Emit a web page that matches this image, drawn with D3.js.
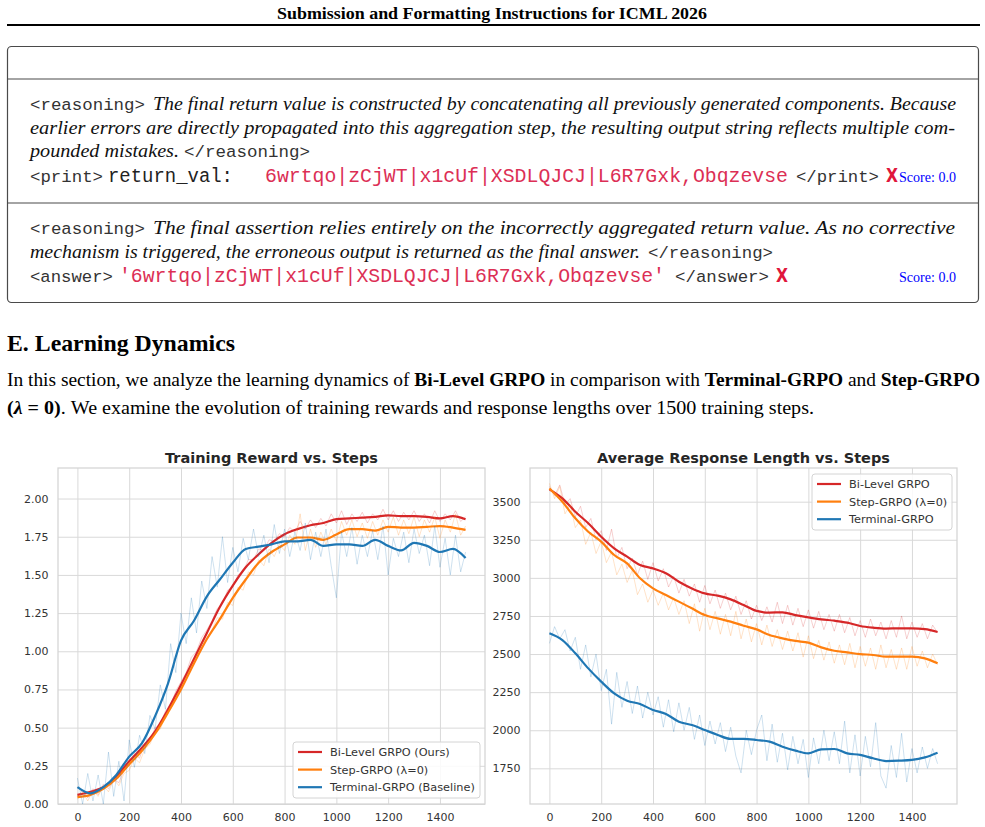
<!DOCTYPE html>
<html>
<head>
<meta charset="utf-8">
<script src="https://cdn.jsdelivr.net/npm/d3@7"></script>
<style>
  body { margin: 0; background: #fff; }
  .serif { font-family: "Liberation Serif", "Times New Roman", serif; }
  .mono { font-family: "Liberation Mono", "Courier New", monospace; }
  .sans { font-family: "DejaVu Sans", sans-serif; }
</style>
</head>
<body>
<div id="page"></div>
<script>
// ---- chart data ----
const smoothSteps = [0, 50, 100, 150, 200, 250, 300, 350, 400, 450, 500, 550, 600, 650, 700, 750,
  800, 850, 900, 950, 1000, 1050, 1100, 1150, 1200, 1250, 1300, 1350, 1400, 1450, 1499];
const rawSteps = [0, 20, 40, 60, 80, 100, 120, 140, 160, 180, 200, 220, 240, 260, 280, 300, 320, 340, 360, 380,
  400, 420, 440, 460, 480, 500, 520, 540, 560, 580, 600, 620, 640, 660, 680, 700, 720, 740, 760, 780,
  800, 820, 840, 860, 880, 900, 920, 940, 960, 980, 1000, 1020, 1040, 1060, 1080, 1100, 1120, 1140, 1160, 1180,
  1200, 1220, 1240, 1260, 1280, 1300, 1320, 1340, 1360, 1380, 1400, 1420, 1440, 1460, 1480, 1499];

const rewardBiLevel = [0.06, 0.08, 0.11, 0.18, 0.28, 0.37, 0.476, 0.62, 0.78, 0.95, 1.12, 1.29, 1.43, 1.55, 1.635, 1.71,
  1.766, 1.80, 1.825, 1.84, 1.865, 1.87, 1.875, 1.88, 1.89, 1.885, 1.885, 1.88, 1.87, 1.885, 1.865];
const rewardStep = [0.045, 0.06, 0.10, 0.165, 0.26, 0.35, 0.46, 0.60, 0.75, 0.92, 1.08, 1.21, 1.35, 1.47, 1.58, 1.65,
  1.70, 1.745, 1.745, 1.73, 1.765, 1.80, 1.80, 1.79, 1.815, 1.81, 1.81, 1.815, 1.82, 1.81, 1.795];
const rewardTerminal = [0.11, 0.07, 0.11, 0.19, 0.31, 0.40, 0.575, 0.79, 1.07, 1.20, 1.36, 1.47, 1.58, 1.67, 1.685, 1.70,
  1.72, 1.72, 1.73, 1.69, 1.70, 1.70, 1.69, 1.73, 1.69, 1.66, 1.71, 1.69, 1.65, 1.67, 1.61];

const rewardBiLevelRaw = [
  0.05, 0.09, 0.04, 0.10, 0.06, 0.13, 0.10, 0.16, 0.14, 0.22,
  0.25, 0.33, 0.30, 0.40, 0.41, 0.50, 0.52, 0.61, 0.65, 0.74,
  0.80, 0.86, 0.96, 1.00, 1.09, 1.14, 1.20, 1.28, 1.31, 1.40,
  1.42, 1.50, 1.52, 1.60, 1.60, 1.67, 1.66, 1.73, 1.72, 1.77,
  1.75, 1.81, 1.78, 1.85, 1.80, 1.86, 1.81, 1.87, 1.82, 1.90,
  1.84, 1.92, 1.83, 1.90, 1.85, 1.91, 1.84, 1.90, 1.86, 1.93,
  1.86, 1.92, 1.85, 1.91, 1.86, 1.92, 1.85, 1.90, 1.84, 1.92,
  1.85, 1.90, 1.86, 1.92, 1.85, 1.88];
const rewardStepRaw = [
  0.03, 0.08, 0.02, 0.09, 0.05, 0.12, 0.08, 0.16, 0.12, 0.20,
  0.22, 0.30, 0.27, 0.36, 0.39, 0.47, 0.49, 0.58, 0.62, 0.70,
  0.76, 0.82, 0.92, 0.96, 1.05, 1.09, 1.14, 1.22, 1.21, 1.32,
  1.30, 1.42, 1.40, 1.52, 1.50, 1.60, 1.56, 1.67, 1.62, 1.70,
  1.66, 1.76, 1.70, 1.90, 1.66, 1.80, 1.68, 1.78, 1.70, 1.80,
  1.72, 1.85, 1.76, 1.86, 1.75, 1.84, 1.74, 1.85, 1.76, 1.86,
  1.78, 1.88, 1.76, 1.86, 1.77, 1.88, 1.75, 1.86, 1.78, 1.88,
  1.74, 1.86, 1.78, 1.90, 1.76, 1.82];
const rewardTerminalRaw = [
  0.17, 0.00, 0.20, 0.02, 0.19, 0.00, 0.34, 0.05, 0.28, 0.02,
  0.42, 0.24, 0.45, 0.33, 0.58, 0.49, 0.78, 0.62, 1.05, 0.86,
  1.25, 1.05, 1.35, 1.12, 1.46, 1.28, 1.62, 1.42, 1.75, 1.45,
  1.68, 1.52, 1.74, 1.60, 1.80, 1.62, 1.76, 1.58, 1.83, 1.64,
  1.80, 1.62, 1.78, 1.66, 1.84, 1.60, 1.78, 1.62, 1.80, 1.56,
  1.35, 1.78, 1.62, 1.81, 1.57, 1.76, 1.62, 1.79, 1.60, 1.82,
  1.50, 1.74, 1.62, 1.78, 1.58, 1.80, 1.64, 1.76, 1.56, 1.82,
  1.55, 1.74, 1.50, 1.76, 1.52, 1.65];

const lengthBiLevel = [3581, 3522, 3434, 3358, 3270, 3194, 3139, 3084, 3062, 3030, 2975, 2931, 2898, 2883, 2859, 2822,
  2783, 2772, 2774, 2756, 2741, 2728, 2719, 2706, 2684, 2673, 2667, 2669, 2669, 2664, 2645];
const lengthStep = [3587, 3500, 3391, 3303, 3238, 3150, 3095, 2997, 2931, 2887, 2844, 2800, 2756, 2734, 2713, 2686,
  2662, 2625, 2603, 2586, 2575, 2544, 2522, 2511, 2500, 2494, 2483, 2483, 2483, 2472, 2439];
const lengthTerminal = [2636, 2592, 2505, 2406, 2319, 2242, 2194, 2172, 2133, 2107, 2056, 2034, 2002, 1969, 1943, 1943,
  1936, 1925, 1892, 1866, 1848, 1875, 1877, 1848, 1838, 1816, 1798, 1800, 1805, 1822, 1853];

const lengthBiLevelRaw = [
  3600, 3540, 3610, 3480, 3520, 3400, 3470, 3330, 3390, 3250,
  3310, 3180, 3320, 3130, 3200, 3060, 3130, 3020, 3110, 2990,
  3100, 2980, 3060, 2940, 3010, 2900, 2990, 2880, 2960, 2840,
  2950, 2830, 2920, 2800, 2900, 2790, 2880, 2760, 2850, 2730,
  2820, 2720, 2810, 2710, 2840, 2700, 2820, 2690, 2800, 2680,
  2790, 2670, 2780, 2660, 2760, 2650, 2760, 2640, 2740, 2620,
  2720, 2610, 2730, 2620, 2710, 2600, 2720, 2610, 2750, 2600,
  2710, 2610, 2700, 2600, 2690, 2640];
const lengthStepRaw = [
  3620, 3520, 3600, 3420, 3480, 3330, 3380, 3220, 3300, 3160,
  3240, 3100, 3170, 3020, 3090, 2970, 3050, 2890, 2960, 2840,
  2920, 2820, 2900, 2790, 2870, 2760, 2850, 2700, 2830, 2650,
  2800, 2660, 2780, 2630, 2760, 2620, 2780, 2600, 2730, 2580,
  2700, 2560, 2690, 2550, 2660, 2530, 2650, 2520, 2640, 2480,
  2620, 2470, 2590, 2460, 2580, 2440, 2560, 2430, 2570, 2410,
  2550, 2420, 2540, 2400, 2560, 2410, 2530, 2400, 2540, 2400,
  2550, 2420, 2520, 2410, 2500, 2430];
const lengthTerminalRaw = [
  2570, 2680, 2600, 2660, 2520, 2610, 2400, 2560, 2350, 2500,
  2260, 2400, 2040, 2380, 2150, 2320, 2110, 2290, 2080, 2250,
  2100, 2220, 2020, 2200, 1990, 2180, 2000, 2150, 1940, 2100,
  1900, 2060, 1910, 2050, 1860, 2020, 1830, 1720, 2000, 1840,
  2000, 2100, 1800, 2040, 1790, 1980, 1740, 1960, 1780, 1940,
  1690, 1950, 1780, 2000, 1800, 1990, 1780, 2060, 1720, 1970,
  1700, 1960, 1760, 2050, 1700, 1620, 1900, 1690, 1980, 1660,
  1880, 1720, 1890, 1750, 1880, 1780];

const xTicks = [0, 200, 400, 600, 800, 1000, 1200, 1400];
const rewardTicks = [0, 0.25, 0.5, 0.75, 1.0, 1.25, 1.5, 1.75, 2.0];
const lengthTicks = [1750, 2000, 2250, 2500, 2750, 3000, 3250, 3500];
const rewardLabels = ['Bi-Level GRPO (Ours)', 'Step-GRPO (λ=0)', 'Terminal-GRPO (Baseline)'];
const lengthLabels = ['Bi-Level GRPO', 'Step-GRPO (λ=0)', 'Terminal-GRPO'];
const palette = ['#d62728', '#ff7f0e', '#1f77b4'];

// ---- page ----
const svg = d3.select('#page').append('svg').attr('width', 985).attr('height', 827);

function put(x, y, s, cls, attrs, len) {
  const t = svg.append('text').attr('class', cls).attr('x', x).attr('y', y).text(s);
  Object.entries(attrs || {}).forEach(([k, v]) => t.attr(k, v));
  if (len) t.attr('textLength', len).attr('lengthAdjust', 'spacingAndGlyphs');
  return t;
}

const serifIt = { 'font-size': 19, 'font-style': 'italic', fill: '#111' };
const tag = { 'font-size': 17.4, fill: '#333' };
const code = { 'font-size': 19.5, fill: '#222' };
const red = { 'font-size': 19.5, fill: '#dc2f55' };
const cross = { 'font-size': 19.5, 'font-weight': 'bold', fill: '#e0163c', 'font-family': 'Liberation Sans, Arial, sans-serif' };
const score = { 'font-size': 14, fill: '#0000ff' };

put(492, 19, 'Submission and Formatting Instructions for ICML 2026', 'serif',
  { 'font-size': 16, 'font-weight': 'bold', 'text-anchor': 'middle', fill: '#000' }, 430);
svg.append('line').attr('x1', 7).attr('x2', 980).attr('y1', 25).attr('y2', 25)
  .attr('stroke', '#000').attr('stroke-width', 1.8);

// box
svg.append('rect').attr('x', 7.5).attr('y', 46.5).attr('width', 971).attr('height', 256).attr('rx', 4)
  .attr('fill', '#fff').attr('stroke', '#4a4a4a').attr('stroke-width', 1.2);
[79, 203].forEach(y => svg.append('line').attr('x1', 7.5).attr('x2', 978.5).attr('y1', y).attr('y2', y)
  .attr('stroke', '#4a4a4a').attr('stroke-width', 1.2));

put(30, 110, '<reasoning>', 'mono', tag, 115);
put(153, 110, 'The final return value is constructed by concatenating all previously generated components. Because', 'serif', serifIt, 803);
put(30, 133.5, 'earlier errors are directly propagated into this aggregation step, the resulting output string reflects multiple com-', 'serif', serifIt, 925);
put(30, 157, 'pounded mistakes.', 'serif', serifIt, 149);
put(184, 157, '</reasoning>', 'mono', tag, 126);
put(30, 181.5, '<print>', 'mono', tag, 73);
put(108, 181.5, 'return_val:', 'mono', code, 125);
put(265, 181.5, '6wrtqo|zCjWT|x1cUf|XSDLQJCJ|L6R7Gxk,Obqzevse', 'mono', red, 523);
put(796, 181.5, '</print>', 'mono', tag, 83);
put(886, 181.5, 'X', 'sans', cross, 12);
put(899, 181.5, 'Score: 0.0', 'serif', score, 57);

put(30, 234, '<reasoning>', 'mono', tag, 115);
put(153, 234, 'The final assertion relies entirely on the incorrectly aggregated return value.  As no corrective', 'serif', serifIt, 802);
put(30, 257.5, 'mechanism is triggered, the erroneous output is returned as the final answer.', 'serif', serifIt, 610);
put(648, 257.5, '</reasoning>', 'mono', tag, 125);
put(30, 281.5, '<answer>', 'mono', tag, 83);
put(119, 281.5, "'6wrtqo|zCjWT|x1cUf|XSDLQJCJ|L6R7Gxk,Obqzevse'", 'mono', red, 546);
put(675, 281.5, '</answer>', 'mono', tag, 94);
put(776, 281.5, 'X', 'sans', cross, 12);
put(899, 281.5, 'Score: 0.0', 'serif', score, 57);

put(7, 350.5, 'E. Learning Dynamics', 'serif', { 'font-size': 23.5, 'font-weight': 'bold', fill: '#000' }, 228);

const p1 = put(7, 386, '', 'serif', { 'font-size': 19, fill: '#000' }, 973);
[['In this section, we analyze the learning dynamics of ', 'normal'], ['Bi-Level GRPO', 'bold'],
 [' in comparison with ', 'normal'], ['Terminal-GRPO', 'bold'], [' and ', 'normal'], ['Step-GRPO', 'bold']]
  .forEach(([s, w]) => p1.append('tspan').attr('font-weight', w).text(s));
const p2 = put(7, 414, '', 'serif', { 'font-size': 19, fill: '#000' }, 807);
p2.append('tspan').attr('font-weight', 'bold').text('(');
p2.append('tspan').attr('font-weight', 'bold').attr('font-style', 'italic').text('λ');
p2.append('tspan').attr('font-weight', 'bold').text(' = 0)');
p2.append('tspan').text('. We examine the evolution of training rewards and response lengths over 1500 training steps.');

// ---- charts ----
function chart(left, title, yDomain, yTicks, yFmt, smooth, raw, labels, legendBox) {
  const top = 468, w = 427, h = 336;
  const g = svg.append('g').attr('transform', `translate(${left},${top})`).attr('class', 'sans');
  const x = d3.scaleLinear().domain([-75, 1574]).range([0, w]);
  const y = d3.scaleLinear().domain(yDomain).range([h, 0]);

  const gx = g.append('g').attr('transform', `translate(0,${h})`)
    .call(d3.axisBottom(x).tickValues(xTicks).tickSize(-h).tickPadding(9).tickFormat(d3.format('d')));
  const gy = g.append('g')
    .call(d3.axisLeft(y).tickValues(yTicks).tickSize(-w).tickPadding(9.5).tickFormat(yFmt));
  [gx, gy].forEach(a => {
    a.select('.domain').remove();
    a.selectAll('line').attr('stroke', '#d9d9d9').attr('stroke-width', 1);
    a.selectAll('text').attr('fill', '#333').attr('font-size', 11).attr('font-family', 'DejaVu Sans');
  });
  g.append('rect').attr('width', w).attr('height', h).attr('fill', 'none')
    .attr('stroke', '#d4d4d4').attr('stroke-width', 1.25);

  const line = (xs, curve) => d3.line().curve(curve).x((d, i) => x(xs[i])).y(d => y(d));
  smooth.forEach((s, k) => {
    g.append('path').datum(raw[k]).attr('d', line(rawSteps, d3.curveLinear)).attr('fill', 'none')
      .attr('stroke', palette[k]).attr('stroke-width', 1).attr('stroke-opacity', 0.22);
    g.append('path').datum(s).attr('d', line(smoothSteps, d3.curveMonotoneX)).attr('fill', 'none')
      .attr('stroke', palette[k]).attr('stroke-width', 2.2).attr('stroke-linejoin', 'round');
  });

  g.append('text').attr('x', w / 2).attr('y', -5).attr('text-anchor', 'middle')
    .attr('font-size', 14.5).attr('font-weight', 'bold').attr('fill', '#262626').text(title);

  const lg = g.append('g').attr('transform', `translate(${legendBox[0] - left},${legendBox[1] - top})`);
  lg.append('rect').attr('width', legendBox[2]).attr('height', 56).attr('rx', 3)
    .attr('fill', '#fff').attr('fill-opacity', 0.85).attr('stroke', '#d4d4d4');
  labels.forEach((lab, k) => {
    const cy = 10 + k * 17.6;
    lg.append('line').attr('x1', 5).attr('x2', 29).attr('y1', cy).attr('y2', cy)
      .attr('stroke', palette[k]).attr('stroke-width', 2.2);
    lg.append('text').attr('x', 37).attr('y', cy + 4).attr('font-size', 11.3).attr('fill', '#333').text(lab);
  });
}

chart(58, 'Training Reward vs. Steps', [0, 2.2], rewardTicks, d3.format('.2f'),
  [rewardBiLevel, rewardStep, rewardTerminal], [rewardBiLevelRaw, rewardStepRaw, rewardTerminalRaw],
  rewardLabels, [293, 742, 187]);
chart(530, 'Average Response Length vs. Steps', [1516, 3721], lengthTicks, d3.format('d'),
  [lengthBiLevel, lengthStep, lengthTerminal], [lengthBiLevelRaw, lengthStepRaw, lengthTerminalRaw],
  lengthLabels, [812, 474, 140]);
</script>
</body>
</html>
